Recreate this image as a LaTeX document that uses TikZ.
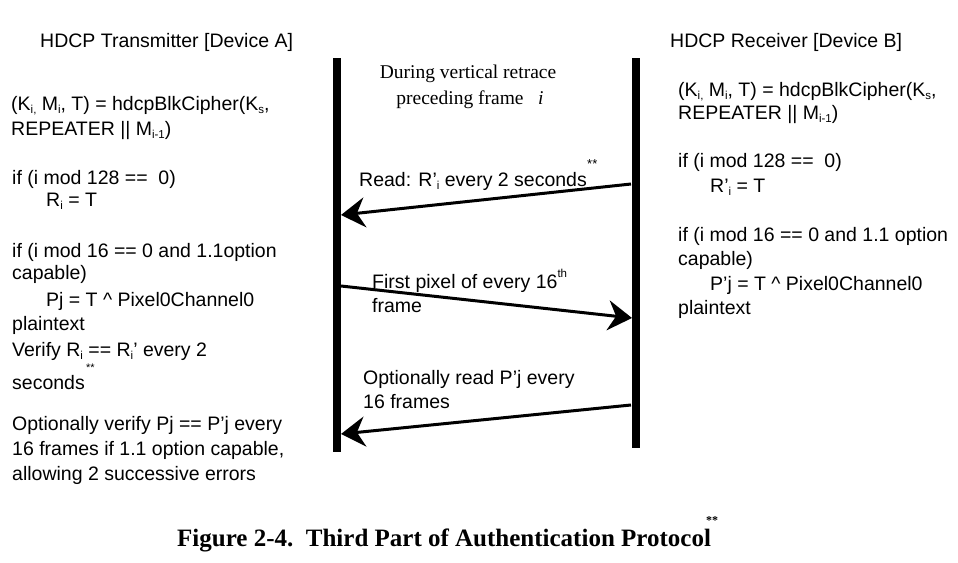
\documentclass[tikz,border=0pt]{standalone}
\usepackage{fontspec}
\setmainfont{Liberation Sans}
\newfontfamily\tms{Liberation Serif}
\usetikzlibrary{arrows.meta}
\newcommand\sbs[1]{\raisebox{-0.2em}{\fontsize{11.5}{11.5}\selectfont #1}}
\newcommand\sps[1]{\raisebox{0.55em}{\fontsize{11.5}{11.5}\selectfont #1}}
\begin{document}
\begin{tikzpicture}[x=1pt,y=-1pt,
  txt/.style={anchor=base west,inner sep=0pt,font=\fontsize{19.5}{22}\selectfont},
  stxt/.style={anchor=base,inner sep=0pt,font=\tms\fontsize{19.5}{22}\selectfont},
  star/.style={anchor=base west,inner sep=0pt,font=\fontsize{11}{11}\selectfont},
  bar/.style={line width=8pt},
  msg/.style={line width=3pt,-{Stealth[length=24pt,width=30pt,inset=8pt]}}]
\useasboundingbox (0,0) rectangle (958,562);
% lifelines
\coordinate (lt) at (337,58); \coordinate (lb) at (337,452);
\coordinate (rt) at (636,58); \coordinate (rb) at (636,448);
\draw[bar] (lt) -- (lb);
\draw[bar] (rt) -- (rb);
% headings
\node[txt] (ha) at (40,47) {HDCP Transmitter [Device A]};
\node[txt] (hb) at (670,47) {HDCP Receiver [Device B]};
% left column
\node[txt] (a1) at (11,110) {(K\sbs{i,} M\sbs{i}, T) = hdcpBlkCipher(K\sbs{s},};
\node[txt] (a2) at (11,135) {REPEATER || M\sbs{i-1})};
\node[txt] (a3) at (12,184) {if (i mod 128 ==\ \ 0)};
\node[txt] (a4) at (46,206) {R\sbs{i} = T};
\node[txt] (a5) at (12,257) {if (i mod 16 == 0 and 1.1option};
\node[txt] (a6) at (12,279) {capable)};
\node[txt] (a7) at (46,306) {Pj = T \^{} Pixel0Channel0};
\node[txt] (a8) at (12,330) {plaintext};
\node[txt] (a9) at (12,356) {Verify R\sbs{i} == R\sbs{i}’ every 2};
\node[star] (a9s) at (86,371) {**};
\node[txt] (a10) at (12,389) {seconds};
\node[txt] (a11) at (12,430) {Optionally verify Pj == P’j every};
\node[txt] (a12) at (12,455) {16 frames if 1.1 option capable,};
\node[txt] (a13) at (12,480) {allowing 2 successive errors};
% right column
\node[txt] (b1) at (678,96) {(K\sbs{i,} M\sbs{i}, T) = hdcpBlkCipher(K\sbs{s},};
\node[txt] (b2) at (678,119) {REPEATER || M\sbs{i-1})};
\node[txt] (b3) at (678,167) {if (i mod 128 ==\ \ 0)};
\node[txt] (b4) at (710,192) {R’\sbs{i} = T};
\node[txt] (b5) at (678,241) {if (i mod 16 == 0 and 1.1 option};
\node[txt] (b6) at (678,265) {capable)};
\node[txt] (b7) at (710,290) {P’j = T \^{} Pixel0Channel0};
\node[txt] (b8) at (678,314) {plaintext};
% middle header
\node[stxt] (m1) at (468,78) {During vertical retrace};
\node[stxt] (m2) at (470,104) {preceding frame\ \ \ \textit{i}};
% messages
\coordinate (r1) at (631,184); \coordinate (l1) at (341,215);
\coordinate (l2) at (341,286); \coordinate (r2) at (632,318);
\coordinate (r3) at (631,405); \coordinate (l3) at (341,434);
\draw[msg] (r1) -- (l1);
\draw[msg] (l2) -- (r2);
\draw[msg] (r3) -- (l3);
\node[txt] (t1) at (359,186) {Read: R’\sbs{i} every 2 seconds};
\node[star,font=\fontsize{13}{13}\selectfont] (t1s) at (587,168) {**};
\node[txt] (t2) at (372,288) {First pixel of every 16\sps{th}};
\node[txt] (t2b) at (372,312) {frame};
\node[txt] (t3) at (363,384) {Optionally read P’j every};
\node[txt] (t3b) at (363,408) {16 frames};
% caption
\node[anchor=base west,inner sep=0pt,font=\tms\bfseries\fontsize{25}{28}\selectfont] (cap) at (177,546) {Figure 2-4.\ \ Third Part of Authentication Protocol};
\node[star,font=\tms\bfseries\fontsize{12}{12}\selectfont] (caps) at (706,524) {**};
\end{tikzpicture}
\end{document}
